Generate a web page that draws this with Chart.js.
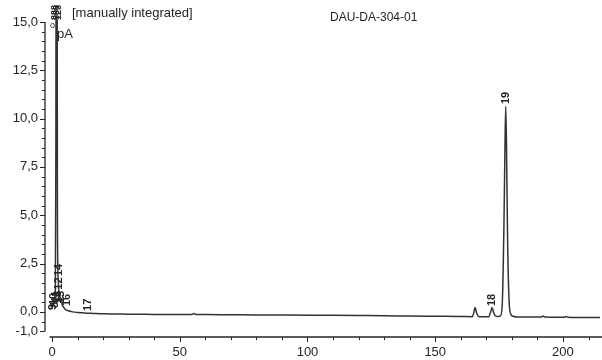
<!DOCTYPE html>
<html>
<head>
<meta charset="utf-8">
<script src="https://cdn.jsdelivr.net/npm/chart.js@4.4.1/dist/chart.umd.min.js"></script>
<style>
html,body{margin:0;padding:0;background:#fff;}
canvas{display:block;}
</style>
</head>
<body>
<canvas id="c" width="602" height="360"></canvas>
<script>
// Retention time (min)
const times = [
  0, 0.5, 1.0, 1.3, 1.5, 1.7, 1.9, 2.1, 2.3, 2.5,
  2.7, 3.0, 3.3, 3.6, 4.0, 4.5, 5.0, 5.5, 6.0, 7,
  8, 10, 12, 14, 16, 20, 25, 30, 40, 50,
  54.5, 55.5, 56.5, 60, 70, 80, 90, 100, 110, 120,
  130, 140, 150, 160, 164.5, 165.0, 165.6, 166.2, 166.9, 168,
  170, 171.0, 171.6, 172.2, 172.8, 173.5, 174.5, 175.6, 176.3, 176.9,
  177.3, 177.6, 177.9, 178.3, 178.9, 179.6, 180.5, 182, 186, 190,
  191.5, 192.2, 193, 198, 200.5, 201.2, 202, 206, 210, 214.5
];
// Detector signal (pA)
const signal = [
  0.35, 0.4, 0.6, 1.2, 8, 30, 30, 6, 2.2, 1.5,
  1.0, 0.8, 0.5, 0.7, 0.35, 0.25, 0.15, 0.1, 0.07, 0.03,
  0.0, -0.03, -0.05, -0.07, -0.08, -0.1, -0.11, -0.12, -0.13, -0.14,
  -0.14, -0.09, -0.14, -0.14, -0.15, -0.16, -0.165, -0.17, -0.18, -0.19,
  -0.2, -0.22, -0.23, -0.24, -0.25, -0.1, 0.22, -0.05, -0.24, -0.25,
  -0.25, -0.25, -0.05, 0.22, 0.0, -0.2, -0.24, -0.2, 0.6, 4.5,
  8.5, 10.64, 8.6, 4.0, 0.6, -0.12, -0.23, -0.26, -0.27, -0.27,
  -0.27, -0.22, -0.27, -0.28, -0.28, -0.24, -0.28, -0.29, -0.29, -0.29
];
const yTickValues = [-1, 0, 2.5, 5, 7.5, 10, 12.5, 15];
const xTickValues = [0, 50, 100, 150, 200];
// Peak number annotations
const peakLabels     = ['19', '18', '17', '16', '14', '12', '13', '11', '10', '15', '9', '8'];
const peakLabelTimes = [177.6, 172.2, 14.2, 5.9, 2.7, 2.7, 2.3, 1.5, 0.7, 3.6, 0.2, 1.1];
const peakLabelBase  = [10.75, 0.3, 0.05, 0.3, 1.85, 1.15, 0.45, 0.5, 0.35, 0.45, 0.1, 0.2];
const topLabels = ['888', '888', '123'];
const titleLeft = '[manually integrated]';
const titleRight = 'DAU-DA-304-01';
const unitLabel = 'pA';

const INK = '#252525';
const FONT = '"Liberation Sans", Arial, sans-serif';

const axesPlugin = {
  id: 'axesPlugin',
  afterDraw(chart) {
    const ctx = chart.ctx;
    const xs = chart.scales.x, ys = chart.scales.y;
    const axX = 45, axY = 337;
    ctx.save();
    ctx.strokeStyle = INK;
    ctx.lineWidth = 1.3;
    // y axis
    ctx.beginPath();
    ctx.moveTo(axX, ys.getPixelForValue(15));
    ctx.lineTo(axX, ys.getPixelForValue(-1));
    ctx.stroke();
    ctx.lineWidth = 1;
    for (let v = -1; v <= 15.001; v += 0.5) {
      const major = yTickValues.some(t => Math.abs(t - v) < 1e-6);
      const py = Math.round(ys.getPixelForValue(v)) + 0.5;
      ctx.beginPath();
      ctx.moveTo(axX - (major ? 5 : 3), py);
      ctx.lineTo(axX, py);
      ctx.stroke();
    }
    // x axis
    ctx.lineWidth = 1.3;
    ctx.beginPath();
    ctx.moveTo(xs.getPixelForValue(-1), axY);
    ctx.lineTo(602, axY);
    ctx.stroke();
    ctx.lineWidth = 1;
    for (let v = 0; v <= 214; v += 10) {
      const major = xTickValues.includes(v);
      const px = Math.round(xs.getPixelForValue(v)) + 0.5;
      ctx.beginPath();
      ctx.moveTo(px, axY);
      ctx.lineTo(px, axY + (major ? 5 : 3));
      ctx.stroke();
    }
    // peak labels (rotated)
    ctx.fillStyle = INK;
    ctx.font = 'bold 11px ' + FONT;
    ctx.textAlign = 'left';
    ctx.textBaseline = 'middle';
    peakLabels.forEach((lab, i) => {
      const px = xs.getPixelForValue(peakLabelTimes[i]);
      const py = ys.getPixelForValue(peakLabelBase[i]);
      ctx.save();
      ctx.translate(px, py);
      ctx.rotate(-Math.PI / 2);
      ctx.fillText(lab, 0, 0);
      ctx.restore();
    });
    // clipped labels stacked at the top of the scale
    ctx.font = 'bold 9px ' + FONT;
    topLabels.forEach((lab, i) => {
      ctx.save();
      ctx.translate(xs.getPixelForValue(0.8 + i * 0.9), 20);
      ctx.rotate(-Math.PI / 2);
      ctx.fillText(lab, 0, 0);
      ctx.restore();
    });
    // texts
    ctx.font = '13px ' + FONT;
    ctx.textBaseline = 'middle';
    ctx.fillText(titleLeft, 72, 13);
    ctx.font = '12px ' + FONT;
    ctx.fillText(titleRight, 330, 18);
    ctx.font = '13px ' + FONT;
    ctx.fillText(unitLabel, 57, 34);
    ctx.font = '9px ' + FONT;
    ctx.fillText('o', 50, 26);
    ctx.restore();
  }
};

new Chart(document.getElementById('c'), {
  type: 'line',
  data: {
    datasets: [{
      data: times.map((t, i) => ({ x: t, y: signal[i] })),
      borderColor: '#333',
      borderWidth: 1.5,
      pointRadius: 0,
      cubicInterpolationMode: 'monotone',
      fill: false
    }]
  },
  options: {
    responsive: false,
    animation: false,
    devicePixelRatio: 1,
    layout: { padding: { top: 20, right: 2, left: 0, bottom: 0 } },
    plugins: { legend: { display: false }, tooltip: { enabled: false } },
    scales: {
      x: {
        type: 'linear',
        min: -2.75,
        max: 214.5,
        afterBuildTicks: s => { s.ticks = xTickValues.map(v => ({ value: v })); },
        afterFit: s => { s.height = 23; },
        grid: { display: false, drawTicks: false },
        border: { display: false },
        ticks: {
          padding: 8, maxRotation: 0, autoSkip: false, color: INK,
          font: { family: FONT, size: 13 },
          callback: v => String(v)
        }
      },
      y: {
        type: 'linear',
        min: -1.3,
        max: 15.1,
        afterBuildTicks: s => { s.ticks = yTickValues.map(v => ({ value: v })); },
        afterFit: s => { s.width = 45; },
        grid: { display: false, drawTicks: false },
        border: { display: false },
        ticks: {
          padding: 7, autoSkip: false, color: INK,
          font: { family: FONT, size: 13 },
          callback: v => Number(v).toFixed(1).replace('.', ',')
        }
      }
    }
  },
  plugins: [axesPlugin]
});
</script>
</body>
</html>
